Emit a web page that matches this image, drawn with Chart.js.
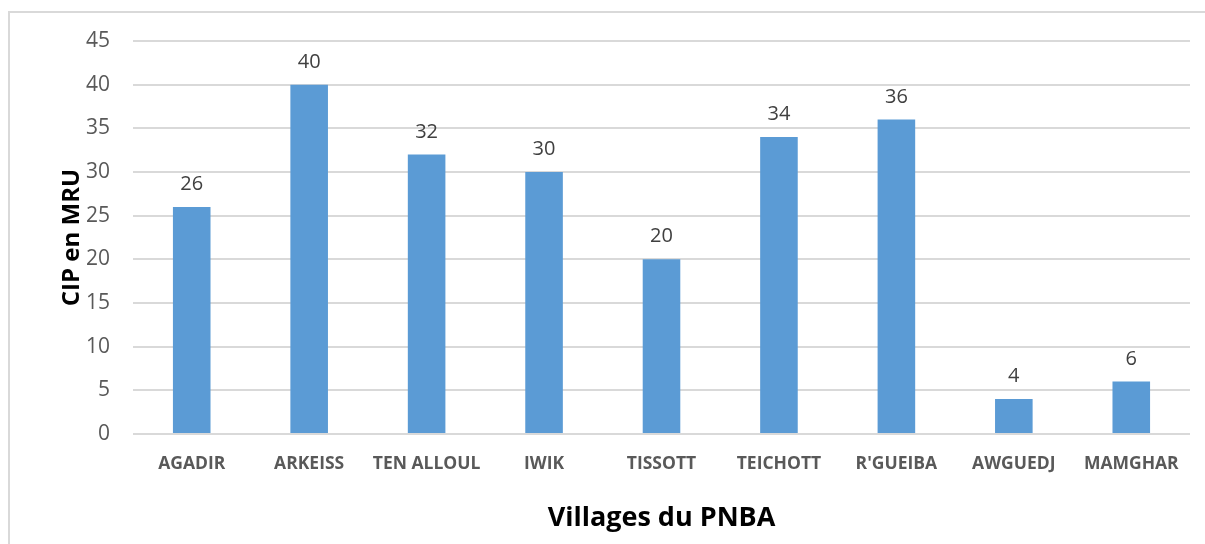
<!DOCTYPE html>
<html lang="fr">
<head>
  <meta charset="UTF-8" />
  <title>CIP par village du PNBA</title>
  <script src="https://cdn.jsdelivr.net/npm/chart.js"></script>
  <style>
    body {
      margin: 0;
      background: #ffffff;
      overflow: hidden;
    }
    .frame {
      position: absolute;
      left: 8px;
      top: 11px;
      width: 1210px;
      height: 560px;
      border: 2px solid #d9d9d9;
      box-sizing: border-box;
    }
    #cipChart {
      position: absolute;
      left: 0;
      top: 0;
    }
  </style>
</head>
<body>
  <div class="frame"></div>
  <canvas id="cipChart" width="1205" height="544"></canvas>

  <script>
    const villages = ['AGADIR', 'ARKEISS', 'TEN ALLOUL', 'IWIK', 'TISSOTT', 'TEICHOTT', "R'GUEIBA", 'AWGUEDJ', 'MAMGHAR'];
    const cipValues = [26, 40, 32, 30, 20, 34, 36, 4, 6];
    const yTicks = [0, 5, 10, 15, 20, 25, 30, 35, 40, 45];

    const FONT = "'Open Sans', 'Noto Sans', sans-serif";

    // value written above each bar
    const barValues = {
      id: 'barValues',
      afterDatasetsDraw(chart) {
        const ctx = chart.ctx;
        const meta = chart.getDatasetMeta(0);
        ctx.save();
        ctx.font = '20px ' + FONT;
        ctx.fillStyle = '#404040';
        ctx.textAlign = 'center';
        ctx.textBaseline = 'alphabetic';
        meta.data.forEach((bar, i) => {
          ctx.fillText(String(cipValues[i]), bar.x, bar.y - 17);
        });
        ctx.restore();
      }
    };

    new Chart(document.getElementById('cipChart'), {
      type: 'bar',
      data: {
        labels: villages,
        datasets: [{
          data: cipValues,
          backgroundColor: '#5b9bd5',
          categoryPercentage: 1,
          barPercentage: 0.32
        }]
      },
      options: {
        responsive: false,
        animation: false,
        devicePixelRatio: 1,
        layout: { padding: { left: 0, top: 41, right: 15, bottom: 0 } },
        plugins: {
          legend: { display: false },
          tooltip: { enabled: false }
        },
        scales: {
          x: {
            grid: { display: false },
            border: { display: false },
            ticks: {
              color: '#595959',
              font: { family: FONT, size: 17.5, weight: 'bold' },
              padding: 12,
              maxRotation: 0,
              autoSkip: false
            },
            title: {
              display: true,
              text: 'Villages du PNBA',
              color: '#000000',
              font: { family: FONT, size: 27, weight: 'bold' },
              padding: { top: 0, bottom: 9 }
            },
            afterFit(scale) { scale.height = 110; }
          },
          y: {
            min: 0,
            max: 45,
            afterBuildTicks(scale) {
              scale.ticks = yTicks.map(v => ({ value: v }));
            },
            grid: { color: '#d9d9d9', lineWidth: 2, drawTicks: false },
            border: { display: false },
            ticks: {
              color: '#595959',
              font: { family: FONT, size: 21 },
              padding: 23
            },
            title: {
              display: true,
              text: 'CIP en MRU',
              color: '#000000',
              font: { family: FONT, size: 24, weight: 'bold' },
              padding: { top: 58, bottom: 0 }
            },
            afterFit(scale) { scale.width = 133; }
          }
        }
      },
      plugins: [barValues]
    });
  </script>
</body>
</html>
